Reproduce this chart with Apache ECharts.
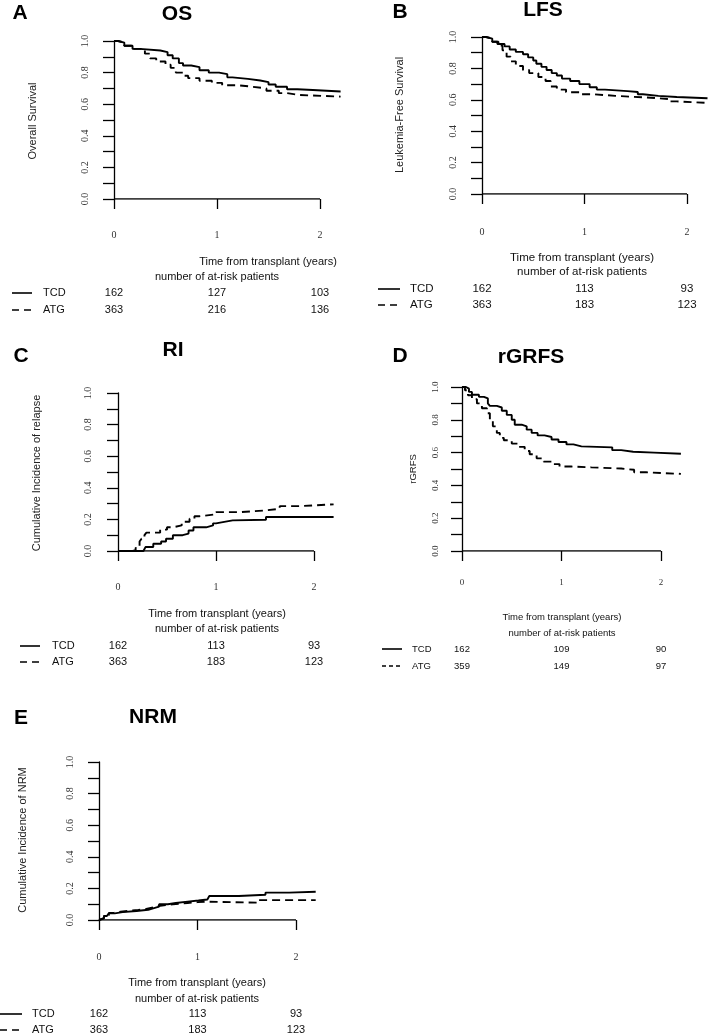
<!DOCTYPE html>
<html>
<head>
<meta charset="utf-8">
<script src="https://cdn.jsdelivr.net/npm/echarts@6/dist/echarts.min.js"></script>
<style>
html,body{margin:0;padding:0;background:#fff;}
#chart{width:709px;height:1036px;}
</style>
</head>
<body>
<div id="chart"></div>
<script>
// ---------- DATA ----------
const xTicks = [0, 1, 2];
const yTicks = [0, 0.1, 0.2, 0.3, 0.4, 0.5, 0.6, 0.7, 0.8, 0.9, 1.0];
const yLabelVals = [0, 0.2, 0.4, 0.6, 0.8, 1.0];
const groups = ['TCD', 'ATG'];

// OS
const osTCD = [[0,1],[0.04,0.99],[0.1,0.97],[0.18,0.95],[0.25,0.94],[0.45,0.93],[0.52,0.91],[0.57,0.89],[0.63,0.86],[0.67,0.845],[0.75,0.835],[0.83,0.815],[0.92,0.80],[1.02,0.79],[1.1,0.77],[1.15,0.76],[1.3,0.75],[1.42,0.74],[1.5,0.725],[1.57,0.71],[1.68,0.695],[1.78,0.69],[1.93,0.68],[2.2,0.68]];
const osATG = [[0,1],[0.04,0.99],[0.1,0.97],[0.18,0.95],[0.3,0.92],[0.35,0.89],[0.41,0.87],[0.5,0.85],[0.55,0.83],[0.6,0.80],[0.67,0.78],[0.72,0.765],[0.83,0.748],[0.95,0.735],[1.05,0.72],[1.2,0.71],[1.35,0.70],[1.48,0.685],[1.6,0.67],[1.68,0.658],[1.8,0.648],[2.2,0.645]];
const osRiskTCD = [162, 127, 103];
const osRiskATG = [363, 216, 136];

// LFS
const lfsTCD = [[0,1],[0.04,0.99],[0.1,0.97],[0.15,0.955],[0.22,0.94],[0.27,0.92],[0.33,0.905],[0.4,0.89],[0.45,0.87],[0.5,0.85],[0.53,0.83],[0.58,0.81],[0.63,0.79],[0.68,0.77],[0.73,0.755],[0.78,0.735],[0.86,0.72],[0.95,0.70],[1.05,0.68],[1.12,0.665],[1.2,0.655],[1.42,0.65],[1.52,0.635],[1.57,0.625],[1.72,0.618],[1.9,0.61],[2.2,0.61]];
const lfsATG = [[0,1],[0.04,0.99],[0.1,0.97],[0.16,0.945],[0.2,0.915],[0.24,0.875],[0.28,0.845],[0.33,0.815],[0.4,0.79],[0.46,0.77],[0.55,0.745],[0.62,0.72],[0.67,0.685],[0.73,0.665],[0.82,0.648],[0.95,0.635],[1.1,0.625],[1.3,0.615],[1.6,0.605],[1.82,0.59],[1.9,0.58],[2.2,0.578]];
const lfsRiskTCD = [162, 113, 93];
const lfsRiskATG = [363, 183, 123];

// RI
const riTCD = [[0,0],[0.26,0.005],[0.28,0.025],[0.36,0.046],[0.44,0.06],[0.49,0.078],[0.56,0.1],[0.66,0.11],[0.72,0.13],[0.77,0.15],[0.9,0.162],[0.97,0.175],[1.0,0.183],[1.07,0.194],[1.17,0.198],[1.51,0.215],[2.2,0.215]];
const riATG = [[0,0],[0.15,0.005],[0.18,0.02],[0.22,0.06],[0.24,0.078],[0.27,0.1],[0.29,0.116],[0.43,0.135],[0.5,0.15],[0.56,0.162],[0.65,0.185],[0.73,0.204],[0.78,0.22],[0.83,0.232],[1.0,0.246],[1.24,0.257],[1.51,0.267],[1.65,0.284],[1.85,0.295],[2.2,0.295]];
const riRiskTCD = [162, 113, 93];
const riRiskATG = [363, 183, 123];

// rGRFS
const grfsTCD = [[0,1],[0.04,0.99],[0.07,0.97],[0.1,0.953],[0.17,0.94],[0.22,0.93],[0.26,0.9],[0.28,0.885],[0.35,0.875],[0.4,0.855],[0.45,0.83],[0.5,0.8],[0.53,0.77],[0.6,0.76],[0.65,0.74],[0.7,0.72],[0.76,0.705],[0.83,0.695],[0.9,0.68],[0.97,0.665],[1.05,0.65],[1.12,0.638],[1.2,0.632],[1.51,0.615],[1.6,0.605],[1.72,0.6],[1.93,0.593],[2.2,0.593]];
const grfsATG = [[0,1],[0.03,0.98],[0.06,0.95],[0.1,0.925],[0.15,0.9],[0.2,0.87],[0.25,0.84],[0.28,0.8],[0.31,0.76],[0.35,0.72],[0.38,0.69],[0.42,0.675],[0.5,0.655],[0.57,0.635],[0.63,0.61],[0.68,0.59],[0.75,0.565],[0.82,0.545],[0.9,0.53],[0.98,0.515],[1.1,0.51],[1.3,0.503],[1.6,0.495],[1.73,0.48],[1.85,0.47],[2.2,0.47]];
const grfsRiskTCD = [162, 109, 90];
const grfsRiskATG = [359, 149, 97];

// NRM
const nrmTCD = [[0,0],[0.02,0.01],[0.05,0.025],[0.08,0.035],[0.1,0.042],[0.16,0.05],[0.24,0.057],[0.38,0.065],[0.5,0.074],[0.55,0.085],[0.61,0.1],[0.7,0.108],[0.78,0.116],[0.9,0.123],[1.01,0.13],[1.1,0.142],[1.12,0.152],[1.42,0.16],[1.69,0.173],[1.93,0.179],[2.2,0.179]];
const nrmATG = [[0,0],[0.02,0.012],[0.05,0.03],[0.1,0.045],[0.15,0.052],[0.22,0.058],[0.3,0.063],[0.4,0.07],[0.48,0.08],[0.55,0.09],[0.62,0.1],[0.75,0.108],[0.9,0.113],[1.0,0.116],[1.08,0.11],[1.62,0.126],[2.2,0.126]];
const nrmRiskTCD = [162, 113, 93];
const nrmRiskATG = [363, 183, 123];

// ---------- LAYOUT ----------
const SANS = '"Liberation Sans", Arial, sans-serif';
const SERIF = '"Liberation Serif", "Times New Roman", serif';
const XMAX = 2.2;

const panels = [
  { letter:'A', title:'OS', ytitle:'Overall Survival', tcd:osTCD, atg:osATG, rTCD:osRiskTCD, rATG:osRiskATG,
    left:114, top:41, bottom:199, unit:103, letterPos:[20,13], titlePos:[177,14], yTitlePos:[33,121], yTitleFont:11,
    yLabMargin:24, xLabMargin:31, tickFont:10, txtFont:11,
    timePos:[268,262], numPos:[217,277], rows:[293,310], lineX:[12,32], labelX:43, legDash:[7,5] },
  { letter:'B', title:'LFS', ytitle:'Leukemia-Free Survival', tcd:lfsTCD, atg:lfsATG, rTCD:lfsRiskTCD, rATG:lfsRiskATG,
    left:482, top:37, bottom:194, unit:102.5, letterPos:[400,12], titlePos:[543,10], yTitlePos:[400,115], yTitleFont:11,
    yLabMargin:24, xLabMargin:33, tickFont:10, txtFont:11.5,
    timePos:[582,258], numPos:[582,272], rows:[289,305], lineX:[378,400], labelX:410, legDash:[7,5] },
  { letter:'C', title:'RI', ytitle:'Cumulative Incidence of relapse', tcd:riTCD, atg:riATG, rTCD:riRiskTCD, rATG:riRiskATG,
    left:118, top:393, bottom:551, unit:98, letterPos:[21,356], titlePos:[173,350], yTitlePos:[37,473], yTitleFont:11,
    yLabMargin:25, xLabMargin:31, tickFont:10, txtFont:11,
    timePos:[217,614], numPos:[217,629], rows:[646,662], lineX:[20,40], labelX:52, legDash:[7,5] },
  { letter:'D', title:'rGRFS', ytitle:'rGRFS', tcd:grfsTCD, atg:grfsATG, rTCD:grfsRiskTCD, rATG:grfsRiskATG,
    left:462, top:387, bottom:551, unit:99.5, letterPos:[400,356], titlePos:[531,357], yTitlePos:[413,469], yTitleFont:9.5,
    yLabMargin:22, xLabMargin:27, tickFont:9, txtFont:9.5,
    timePos:[562,617], numPos:[562,633], rows:[649,666], lineX:[382,402], labelX:412, legDash:[4,3] },
  { letter:'E', title:'NRM', ytitle:'Cumulative Incidence of NRM', tcd:nrmTCD, atg:nrmATG, rTCD:nrmRiskTCD, rATG:nrmRiskATG,
    left:99, top:762, bottom:920, unit:98.5, letterPos:[21,718], titlePos:[153,717], yTitlePos:[23,840], yTitleFont:11,
    yLabMargin:24, xLabMargin:32, tickFont:10, txtFont:11,
    timePos:[197,983], numPos:[197,999], rows:[1014,1030], lineX:[0,22], labelX:32, legDash:[7,5] }
];

const grid = [], xAxis = [], yAxis = [], series = [], graphic = [];

function txt(x, y, text, font, opts) {
  opts = opts || {};
  return {
    type:'text', x:x, y:y, rotation: opts.rotation || 0, silent:true,
    style:{ text:text, font:font, fill: opts.fill || '#111', align: opts.align || 'center', verticalAlign:'middle' }
  };
}

panels.forEach((p, i) => {
  grid.push({ left:p.left, top:p.top, width:p.unit * XMAX, height:p.bottom - p.top, containLabel:false });
  xAxis.push({
    type:'value', gridIndex:i, min:0, max:XMAX,
    axisLine:{ show:false },
    axisTick:{ show:true, customValues:xTicks, length:10, lineStyle:{ color:'#000', width:1.3 } },
    axisLabel:{ customValues:xTicks, margin:p.xLabMargin, fontFamily:SERIF, fontSize:p.tickFont, color:'#333',
                formatter:v => String(v) },
    splitLine:{ show:false }
  });
  yAxis.push({
    type:'value', gridIndex:i, min:0, max:1,
    axisLine:{ show:true, lineStyle:{ color:'#000', width:1.3 } },
    axisTick:{ show:true, customValues:yTicks, length:11, lineStyle:{ color:'#000', width:1.3 } },
    axisLabel:{ customValues:yLabelVals, rotate:90, margin:p.yLabMargin, fontFamily:SERIF, fontSize:p.tickFont, color:'#333',
                formatter:v => v.toFixed(1) },
    splitLine:{ show:false }
  });
  // baseline from first to last tick
  series.push({
    type:'line', xAxisIndex:i, yAxisIndex:i, silent:true, symbol:'none', z:1,
    data:[[xTicks[0], 0], [xTicks[xTicks.length - 1], 0]],
    lineStyle:{ color:'#000', width:1.3 }
  });
  series.push({
    name:groups[0], type:'line', xAxisIndex:i, yAxisIndex:i, step:'end', symbol:'none', silent:true, z:3,
    data:p.tcd, lineStyle:{ color:'#000', width:1.9, type:'solid' }
  });
  series.push({
    name:groups[1], type:'line', xAxisIndex:i, yAxisIndex:i, step:'end', symbol:'none', silent:true, z:3,
    data:p.atg, lineStyle:{ color:'#000', width:1.9, type:[8,5] }
  });

  // texts
  graphic.push(txt(p.letterPos[0], p.letterPos[1], p.letter, 'bold 21px ' + SANS, { fill:'#000' }));
  graphic.push(txt(p.titlePos[0], p.titlePos[1], p.title, 'bold 21px ' + SANS, { fill:'#000' }));
  graphic.push(txt(p.yTitlePos[0], p.yTitlePos[1], p.ytitle, p.yTitleFont + 'px ' + SANS, { rotation:Math.PI / 2, fill:'#222' }));
  const f = p.txtFont + 'px ' + SANS;
  graphic.push(txt(p.timePos[0], p.timePos[1], 'Time from transplant (years)', f));
  graphic.push(txt(p.numPos[0], p.numPos[1], 'number of at-risk patients', f));
  const risks = [p.rTCD, p.rATG];
  groups.forEach((g, gi) => {
    const y = p.rows[gi];
    graphic.push({
      type:'line', silent:true,
      shape:{ x1:p.lineX[0], y1:y, x2:p.lineX[1], y2:y },
      style:{ stroke:'#000', lineWidth:1.6, lineDash: gi === 0 ? null : p.legDash }
    });
    graphic.push(txt(p.labelX, y, g, f, { align:'left' }));
    risks[gi].forEach((n, k) => {
      graphic.push(txt(p.left + xTicks[k] * p.unit, y, String(n), f));
    });
  });
});

const chart = echarts.init(document.getElementById('chart'), null, { renderer:'canvas' });
chart.setOption({
  backgroundColor:'#fff',
  animation:false,
  grid:grid, xAxis:xAxis, yAxis:yAxis, series:series, graphic:graphic
});
</script>
</body>
</html>
